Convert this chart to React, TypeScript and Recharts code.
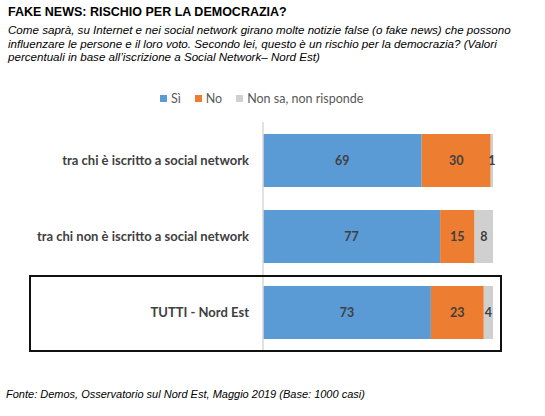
import { BarChart, Bar, XAxis, YAxis, LabelList, Legend } from "recharts";

const categories = [
  "tra chi è iscritto a social network",
  "tra chi non è iscritto a social network",
  "TUTTI - Nord Est",
];
const si = [69, 77, 73];
const no = [30, 15, 23];
const nonSa = [1, 8, 4];

const series = [
  { key: "si", name: "Sì", color: "#5B9BD5" },
  { key: "no", name: "No", color: "#ED7D31" },
  { key: "nonSa", name: "Non sa, non risponde", color: "#D0D0D0" },
];

const subtitle = [
  "Come saprà, su Internet e nei social network girano molte notizie false (o fake news) che possono",
  "influenzare le persone e il loro voto. Secondo lei, questo è un rischio per la democrazia? (Valori",
  "percentuali in base all’iscrizione a Social Network– Nord Est)",
];

const data = categories.map((name, i) => ({
  name,
  si: si[i],
  no: no[i],
  nonSa: nonSa[i],
}));

const arial = "'Liberation Sans', Arial, sans-serif";
const body = "Lato, 'Open Sans', sans-serif";

function LegendContent() {
  return (
    <div style={{ display: "flex", height: 20, alignItems: "center", fontFamily: body, fontSize: 12.5, color: "#595959" }}>
      {series.map((s) => (
        <div key={s.key} style={{ display: "flex", alignItems: "center", marginRight: 14 }}>
          <span style={{ width: 7, height: 7, background: s.color, marginRight: 4, display: "inline-block" }} />
          {s.name}
        </div>
      ))}
    </div>
  );
}

export default function App() {
  return (
    <div style={{ position: "fixed", left: 0, top: 0, width: 545, height: 416, background: "#fff", overflow: "hidden" }}>
      <div style={{ position: "absolute", left: 8, top: 5, fontFamily: arial, fontWeight: "bold", fontSize: 12.5, color: "#000" }}>
        FAKE NEWS: RISCHIO PER LA DEMOCRAZIA?
      </div>
      <div style={{ position: "absolute", left: 8, top: 23, fontFamily: arial, fontStyle: "italic", fontSize: 11.6, lineHeight: "13.7px", color: "#000", whiteSpace: "nowrap" }}>
        {subtitle.map((l) => (
          <div key={l}>{l}</div>
        ))}
      </div>
      <BarChart
        width={545}
        height={416}
        data={data}
        layout="vertical"
        barSize={53}
        margin={{ top: 102, right: 52, bottom: 66, left: 0 }}
        style={{ position: "absolute", left: 0, top: 0 }}
      >
        <XAxis type="number" domain={[0, 100]} hide />
        <YAxis
          type="category"
          dataKey="name"
          width={263}
          axisLine={{ stroke: "#D9D9D9", strokeWidth: 1.5 }}
          tickLine={false}
          tickMargin={8}
          tick={{ fontFamily: body, fontWeight: "bold", fontSize: 13, fill: "#404040" }}
        />
        <Legend
          verticalAlign="top"
          align="left"
          height={20}
          content={() => <LegendContent />}
          wrapperStyle={{ top: 88, left: 160 }}
        />
        {series.map((s) => (
          <Bar key={s.key} dataKey={s.key} name={s.name} stackId="a" fill={s.color} isAnimationActive={false}>
            <LabelList dataKey={s.key} position="center" fill="#404040" fontFamily={body} fontWeight="bold" fontSize={12.5} />
          </Bar>
        ))}
      </BarChart>
      <div style={{ position: "absolute", left: 29, top: 275, width: 473, height: 77, border: "2px solid #111", boxSizing: "border-box", pointerEvents: "none" }} />
      <div style={{ position: "absolute", left: 6, top: 388, fontFamily: arial, fontStyle: "italic", fontSize: 11, color: "#000" }}>
        Fonte: Demos, Osservatorio sul Nord Est, Maggio 2019 (Base: 1000 casi)
      </div>
    </div>
  );
}
